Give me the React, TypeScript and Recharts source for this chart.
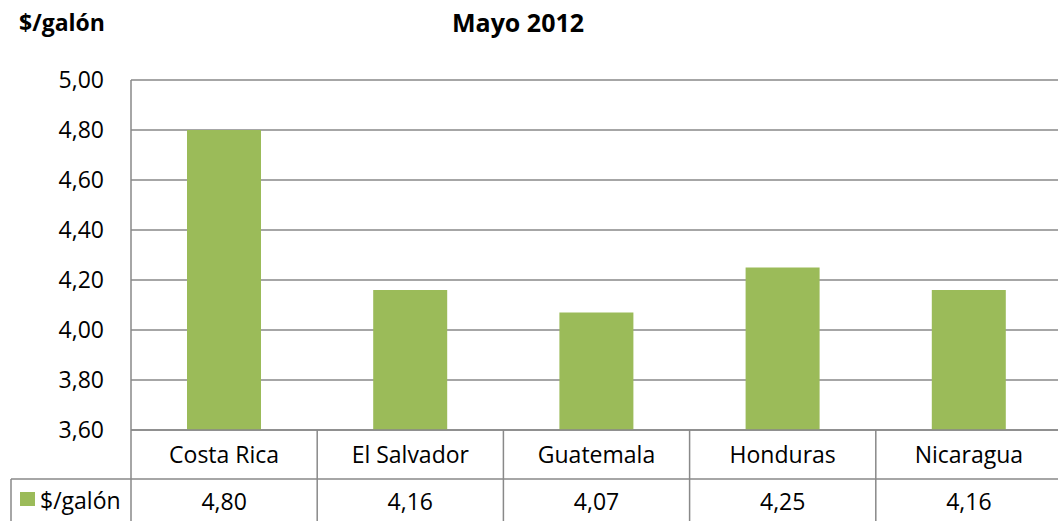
import { BarChart, Bar, XAxis, YAxis, CartesianGrid } from "recharts";

const countries = ["Costa Rica", "El Salvador", "Guatemala", "Honduras", "Nicaragua"];
const prices = [4.8, 4.16, 4.07, 4.25, 4.16];
const yTicks = [3.6, 3.8, 4.0, 4.2, 4.4, 4.6, 4.8, 5.0];
const seriesName = "$/galón";
const title = "Mayo 2012";

const BAR_COLOR = "#9BBB59";
const LINE_COLOR = "#898989";
const FONT = "'Open Sans', 'Noto Sans', sans-serif";
const FONT_SIZE = 23;

const CHART_W = 1062;
const CHART_H = 521;
const Y_AXIS_W = 131;
const PLOT_TOP = 80;
const X_AXIS_H = 91;
const BAND = (CHART_W - Y_AXIS_W) / countries.length;

const data = countries.map((name, i) => ({ name, value: prices[i] }));

const fmt = (v: number) => v.toFixed(2).replace(".", ",");

function TableTick(props: any) {
  const { x, y, payload, index } = props;
  const left = x - BAND / 2;
  const right = x + BAND / 2;
  const rowSplit = y + 49;
  const bottom = CHART_H;
  return (
    <g>
      <line x1={left} y1={rowSplit} x2={right} y2={rowSplit} stroke={LINE_COLOR} strokeWidth={1.5} />
      <line x1={right} y1={y} x2={right} y2={bottom} stroke={LINE_COLOR} strokeWidth={1.5} />
      {index === 0 && (
        <g>
          <line x1={left} y1={y} x2={left} y2={bottom} stroke={LINE_COLOR} strokeWidth={1.5} />
          <line x1={11} y1={rowSplit} x2={left} y2={rowSplit} stroke={LINE_COLOR} strokeWidth={1.5} />
          <line x1={11} y1={rowSplit} x2={11} y2={bottom} stroke={LINE_COLOR} strokeWidth={1.5} />
          <rect x={20} y={492} width={15} height={14} fill={BAR_COLOR} />
          <text x={40} y={500} dominantBaseline="central" fontSize={FONT_SIZE} fontFamily={FONT} fill="#000">
            {seriesName}
          </text>
        </g>
      )}
      <text x={x} y={y + 24} textAnchor="middle" dominantBaseline="central" fontSize={FONT_SIZE} fontFamily={FONT} fill="#000">
        {payload.value}
      </text>
      <text x={x} y={y + 71} textAnchor="middle" dominantBaseline="central" fontSize={FONT_SIZE} fontFamily={FONT} fill="#000">
        {fmt(prices[index])}
      </text>
    </g>
  );
}

export default function App() {
  return (
    <div style={{ position: "absolute", left: 0, top: 0, width: 1058, height: 521, overflow: "hidden", background: "#fff" }}>
      <div style={{ position: "absolute", left: 19, top: 6, fontFamily: FONT, fontWeight: 700, fontSize: 23, lineHeight: "normal" }}>
        {seriesName}
      </div>
      <div style={{ position: "absolute", left: 0, width: 1036, top: 5, textAlign: "center", fontFamily: FONT, fontWeight: 700, fontSize: 25, lineHeight: "normal" }}>
        {title}
      </div>
      <BarChart
        width={CHART_W}
        height={CHART_H}
        data={data}
        margin={{ top: PLOT_TOP, right: 0, bottom: 0, left: 0 }}
        style={{ position: "absolute", left: 0, top: 0 }}
      >
        <CartesianGrid vertical={false} stroke={LINE_COLOR} strokeWidth={1.5} />
        <YAxis
          type="number"
          domain={[3.6, 5.0]}
          ticks={yTicks}
          width={Y_AXIS_W}
          tickFormatter={fmt}
          tickLine={false}
          tickSize={0}
          tickMargin={27}
          axisLine={{ stroke: LINE_COLOR, strokeWidth: 1.5 }}
          tick={{ fontSize: FONT_SIZE, fontFamily: FONT, fill: "#000" }}
          allowDataOverflow
        />
        <XAxis
          dataKey="name"
          height={X_AXIS_H}
          tickLine={false}
          axisLine={{ stroke: LINE_COLOR, strokeWidth: 1.5 }}
          tick={<TableTick />}
          interval={0}
          tickSize={0}
          tickMargin={0}
        />
        <Bar dataKey="value" fill={BAR_COLOR} barSize={74} isAnimationActive={false} />
      </BarChart>
    </div>
  );
}
